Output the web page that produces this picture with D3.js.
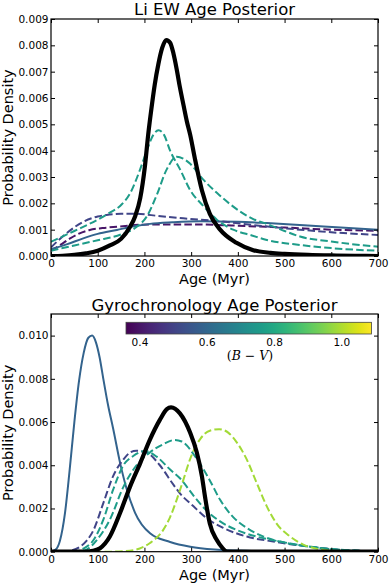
<!DOCTYPE html>
<html lang="en">
<head>
<meta charset="utf-8" />
<title>Li EW and Gyrochronology Age Posteriors</title>
<style>
  body { margin: 0; padding: 0; background: #fff; }
  svg { display: block; font-family: "DejaVu Sans", sans-serif; }
  .tick text { font-size: 10.5px; fill: #000; }
  .tick line { stroke: #000; stroke-width: 1; }
</style>
</head>
<body>
<div id="chart"></div>
<script src="https://d3js.org/d3.v7.min.js"></script>
<script>
// ages in Myr, densities
const xTicks = [0, 100, 200, 300, 400, 500, 600, 700];
const liYTicks = [0, 0.001, 0.002, 0.003, 0.004, 0.005, 0.006, 0.007, 0.008, 0.009];
const gyroYTicks = [0, 0.002, 0.004, 0.006, 0.008, 0.010];
const cbTicks = [0.4, 0.6, 0.8, 1.0];
const cbDomain = [0.36, 1.09];

// B-V colour of each star
const bvPurple = 0.40, bvBlueDash = 0.51, bvBlueSolid = 0.59, bvTeal = 0.76, bvLime = 0.99;

// Li EW panel
const liPurple = [[0,0.0002],[20,0.00042],[41,0.00067],[60,0.00085],[83,0.00099],[110,0.00106],[141,0.00111],[212,0.0012],[300,0.0012],[355,0.00118],[400,0.00115],[500,0.00108],[600,0.001],[700,0.00096]];
const liBlueDash = [[0,0.00033],[33,0.00086],[69,0.0013],[100,0.0015],[119,0.00156],[150,0.0016],[183,0.0016],[230,0.00152],[283,0.00143],[362,0.00132],[430,0.00118],[533,0.001],[600,0.0009],[700,0.0008]];
const liBlueSolid = [[0,0.00026],[35,0.00045],[69,0.00067],[100,0.00084],[141,0.00099],[175,0.00112],[212,0.00122],[260,0.00128],[319,0.00132],[400,0.0013],[462,0.00125],[550,0.00116],[620,0.00108],[700,0.001]];
const liTealA = [[0,0.00054],[50,0.00095],[105,0.00143],[126,0.00165],[148,0.0019],[170,0.0024],[191,0.0033],[205,0.004],[219,0.0046],[230,0.00478],[242,0.0046],[255,0.004],[276,0.0033],[298,0.0025],[326,0.0019],[355,0.00138],[390,0.001],[430,0.00078],[462,0.00061],[533,0.00042],[600,0.0003],[650,0.00024],[700,0.0002]];
const liTealB = [[0,0.0002],[50,0.0004],[100,0.0006],[150,0.00082],[183,0.0011],[205,0.0015],[226,0.0023],[248,0.0033],[269,0.00377],[283,0.0037],[298,0.0035],[326,0.0029],[355,0.0024],[404,0.0017],[433,0.0014],[462,0.00122],[500,0.00095],[533,0.00074],[600,0.00055],[650,0.00044],[700,0.00035]];
const liBlack = [[0,0],[25,0.00001],[50,0.00004],[75,0.0001],[100,0.0002],[126,0.0004],[150,0.00065],[169,0.0011],[180,0.0015],[191,0.0022],[201,0.0034],[208,0.0046],[215,0.0056],[222,0.0065],[230,0.0073],[238,0.0079],[247,0.0082],[255,0.0081],[262,0.0077],[269,0.0071],[276,0.0064],[284,0.0057],[291,0.0051],[298,0.0046],[308,0.0037],[323,0.0025],[340,0.0016],[362,0.001],[397,0.0005],[433,0.00022],[470,0.00012],[500,0.00008],[550,0.00004],[600,0.00002],[650,0.00001],[700,0]];

// gyrochronology panel
const gyroBlueSolid = [[0,0],[10,0.0001],[19,0.0005],[30,0.0018],[40,0.0038],[50,0.006],[60,0.0079],[70,0.0092],[80,0.0099],[88,0.01],[96,0.0097],[104,0.009],[112,0.008],[122,0.0068],[133,0.0057],[148,0.0041],[162,0.0029],[180,0.0018],[212,0.00085],[255,0.00045],[298,0.00023],[350,0.0001],[400,0.00005],[500,0.00001],[700,0]];
const gyroBlueDash = [[0,0],[26,0],[45,0.00006],[62,0.00023],[76,0.0005],[91,0.001],[112,0.00225],[133,0.0035],[155,0.00427],[170,0.0046],[183,0.00467],[205,0.00458],[233,0.004],[262,0.0031],[276,0.0027],[305,0.0021],[333,0.00155],[369,0.0011],[419,0.0007],[476,0.00047],[555,0.00023],[600,0.00012],[650,0.00005],[700,0.00002]];
const gyroTealC = [[0,0],[48,0],[70,0.00015],[91,0.00054],[112,0.00148],[133,0.00287],[155,0.004],[176,0.00443],[201,0.00466],[226,0.0044],[255,0.0038],[276,0.0034],[305,0.0026],[333,0.0019],[362,0.0014],[398,0.001],[440,0.0007],[490,0.00047],[555,0.00023],[600,0.00012],[650,0.00005],[700,0.00002]];
const gyroTealD = [[0,0],[62,0],[80,0.00015],[98,0.00054],[126,0.00148],[155,0.003],[183,0.004],[212,0.0046],[240,0.00497],[265,0.00517],[280,0.0051],[312,0.0043],[340,0.0033],[362,0.0024],[390,0.0016],[419,0.0011],[455,0.0007],[505,0.0004],[555,0.00023],[600,0.00012],[650,0.00005],[700,0.00002]];
const gyroLime = [[0,0],[120,0],[160,0.00003],[190,0.00015],[212,0.0004],[240,0.001],[255,0.0016],[269,0.0024],[283,0.0033],[298,0.0043],[319,0.0052],[340,0.0056],[360,0.00567],[380,0.0055],[398,0.00505],[419,0.00427],[440,0.0032],[462,0.0021],[483,0.0013],[512,0.0007],[540,0.00033],[570,0.00013],[600,0.00005],[650,0.00001],[700,0]];
const gyroBlack = [[0,0],[76,0],[90,0.00004],[105,0.00016],[126,0.0007],[148,0.0018],[169,0.003],[191,0.0041],[212,0.0052],[233,0.0061],[248,0.0066],[257,0.00668],[276,0.0064],[298,0.0055],[312,0.0046],[323,0.0035],[330,0.0025],[340,0.0013],[355,0.00054],[366,0.0002],[378,0],[700,0]];

const W = 390, H = 586;
const svg = d3.select('#chart').append('svg').attr('width', W).attr('height', H);

const bvColor = bv => d3.interpolateViridis((bv - cbDomain[0]) / (cbDomain[1] - cbDomain[0]));
const x = d3.scaleLinear().domain([0, 700]).range([51, 378]);

function panel(id, top, bottom, yMax, yTicks, title, titleY, series) {
  const y = d3.scaleLinear().domain([0, yMax]).range([bottom, top]);
  const g = svg.append('g');

  g.append('clipPath').attr('id', id)
    .append('rect').attr('x', x(0)).attr('y', top)
    .attr('width', x(700) - x(0)).attr('height', bottom - top);

  const line = d3.line().x(d => x(d[0])).y(d => y(d[1])).curve(d3.curveMonotoneX);
  g.append('g').attr('clip-path', `url(#${id})`)
    .selectAll('path').data(series).enter().append('path')
    .attr('d', s => line(s.data))
    .attr('fill', 'none')
    .attr('stroke', s => s.color)
    .attr('stroke-width', s => s.width)
    .attr('stroke-dasharray', s => s.dash ? '7.5,3.2' : null)
    .attr('stroke-linejoin', 'round');

  const fmtY = d3.format('.3f');
  const left = g.append('g').attr('transform', `translate(${x(0)},0)`)
    .call(d3.axisLeft(y).tickValues(yTicks).tickSize(-4).tickPadding(2.5).tickFormat(fmtY));
  const right = g.append('g').attr('transform', `translate(${x(700)},0)`)
    .call(d3.axisRight(y).tickValues(yTicks).tickSize(-4).tickFormat(''));
  const bot = g.append('g').attr('transform', `translate(0,${bottom})`)
    .call(d3.axisBottom(x).tickValues(xTicks).tickSize(-4).tickPadding(4).tickFormat(d3.format('d')));
  const tp = g.append('g').attr('transform', `translate(0,${top})`)
    .call(d3.axisTop(x).tickValues(xTicks).tickSize(-4).tickFormat(''));
  [left, right, bot, tp].forEach(a => a.select('.domain').remove());
  left.selectAll('text').attr('font-family', 'DejaVu Sans');
  bot.selectAll('text').attr('font-family', 'DejaVu Sans');

  g.append('rect').attr('x', x(0)).attr('y', top)
    .attr('width', x(700) - x(0)).attr('height', bottom - top)
    .attr('fill', 'none').attr('stroke', '#000').attr('stroke-width', 1.2);

  g.append('text').attr('x', (x(0) + x(700)) / 2).attr('y', titleY)
    .attr('text-anchor', 'middle').attr('font-size', 16.5).text(title);
  g.append('text').attr('x', (x(0) + x(700)) / 2).attr('y', bottom + 28)
    .attr('text-anchor', 'middle').attr('font-size', 14.5).text('Age (Myr)');
  g.append('text')
    .attr('transform', `translate(12.5,${(top + bottom) / 2}) rotate(-90)`)
    .attr('text-anchor', 'middle').attr('font-size', 14.5).text('Probability Density');
  return y;
}

panel('clipLi', 19, 256, 0.009, liYTicks, 'Li EW Age Posterior', 15, [
  { data: liPurple, color: bvColor(bvPurple), width: 2, dash: true },
  { data: liBlueSolid, color: bvColor(bvBlueSolid), width: 2, dash: false },
  { data: liBlueDash, color: bvColor(bvBlueDash), width: 2, dash: true },
  { data: liTealA, color: bvColor(bvTeal), width: 2, dash: true },
  { data: liTealB, color: bvColor(bvTeal), width: 2, dash: true },
  { data: liBlack, color: '#000', width: 4.2, dash: false }
]);

panel('clipGyro', 314, 551.7, 0.011, gyroYTicks, 'Gyrochronology Age Posterior', 310.5, [
  { data: gyroBlueSolid, color: bvColor(bvBlueSolid), width: 2, dash: false },
  { data: gyroBlueDash, color: bvColor(bvBlueDash), width: 2, dash: true },
  { data: gyroTealC, color: bvColor(bvTeal), width: 2, dash: true },
  { data: gyroTealD, color: bvColor(bvTeal), width: 2, dash: true },
  { data: gyroLime, color: bvColor(bvLime), width: 2, dash: true },
  { data: gyroBlack, color: '#000', width: 4.2, dash: false }
]);

// colorbar
const cb = d3.scaleLinear().domain(cbDomain).range([126, 371.5]);
const grad = svg.append('defs').append('linearGradient').attr('id', 'viridis');
d3.range(0, 1.0001, 0.05).forEach(t => {
  grad.append('stop').attr('offset', `${t * 100}%`).attr('stop-color', d3.interpolateViridis(t));
});
svg.append('rect').attr('x', cb.range()[0]).attr('y', 322.3)
  .attr('width', cb.range()[1] - cb.range()[0]).attr('height', 11.7)
  .attr('fill', 'url(#viridis)').attr('stroke', '#444').attr('stroke-width', 0.8);
const cbAxis = svg.append('g').attr('transform', 'translate(0,334)')
  .call(d3.axisBottom(cb).tickValues(cbTicks).tickSize(0).tickPadding(4.5).tickFormat(d3.format('.1f')));
cbAxis.select('.domain').remove();
cbAxis.selectAll('text').attr('font-family', 'DejaVu Sans');

const cbLabel = svg.append('text').attr('x', 250).attr('y', 360)
  .attr('text-anchor', 'middle').attr('font-size', 12.5)
  .attr('font-family', '"DejaVu Serif", serif');
cbLabel.append('tspan').text('(');
cbLabel.append('tspan').attr('font-style', 'italic').text('B');
cbLabel.append('tspan').text(' \u2212 ');
cbLabel.append('tspan').attr('font-style', 'italic').text('V');
cbLabel.append('tspan').text(')');
</script>
</body>
</html>
